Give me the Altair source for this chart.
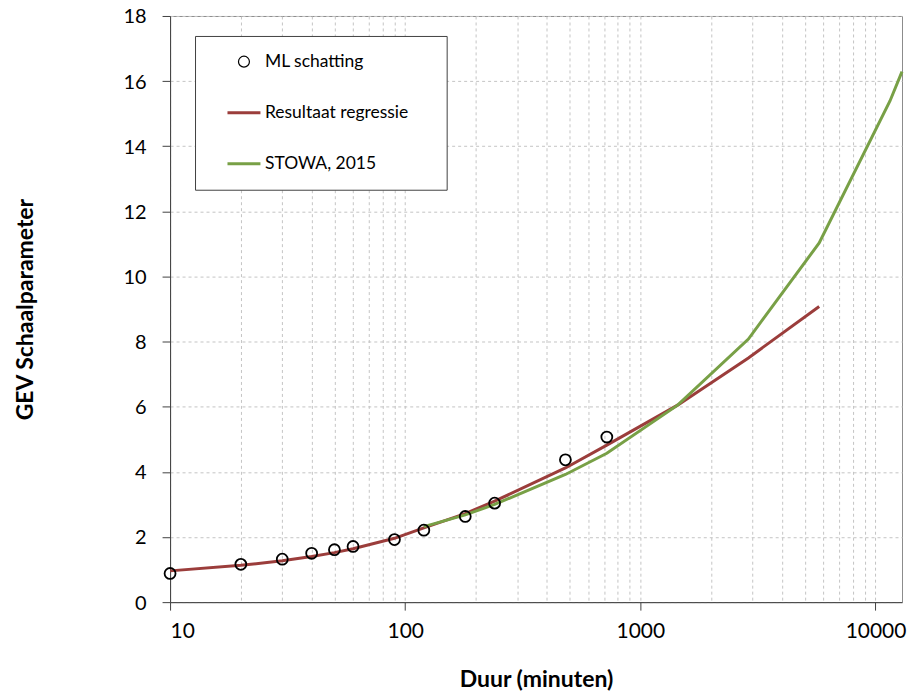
import altair as alt
import pandas as pd

# ---------------- data ----------------
series_names = ["ML schatting", "Resultaat regressie", "STOWA, 2015"]
series_colors = ["#000000", "#9B3D3B", "#78A046"]

ml_dur = [10, 20, 30, 40, 50, 60, 90, 120, 180, 240, 480, 720]
ml_val = [0.88, 1.16, 1.32, 1.50, 1.61, 1.71, 1.92, 2.21, 2.63, 3.04, 4.37, 5.07]

reg_dur = [10, 20, 30, 40, 50, 60, 90, 120, 180, 240, 480, 720, 1440, 2880, 5760]
reg_val = [0.96, 1.13, 1.27, 1.40, 1.52, 1.64, 1.96, 2.28, 2.72, 3.10, 4.12, 4.82, 6.05, 7.50, 9.08]

stowa_dur = [120, 180, 240, 480, 720, 1440, 2880, 5760, 11520, 12960]
stowa_val = [2.32, 2.68, 3.00, 3.92, 4.57, 6.05, 8.08, 11.03, 15.39, 16.29]

x_grid_values = [10, 20, 30, 40, 50, 60, 70, 80, 90,
                 100, 200, 300, 400, 500, 600, 700, 800, 900,
                 1000, 2000, 3000, 4000, 5000, 6000, 7000, 8000, 9000, 10000]
y_tick_values = [0, 2, 4, 6, 8, 10, 12, 14, 16, 18]

ml_df = pd.DataFrame({"duur": ml_dur, "waarde": ml_val, "reeks": series_names[0]})
lines_df = pd.concat([
    pd.DataFrame({"duur": reg_dur, "waarde": reg_val, "reeks": series_names[1]}),
    pd.DataFrame({"duur": stowa_dur, "waarde": stowa_val, "reeks": series_names[2]}),
], ignore_index=True)

# ---------------- encodings ----------------
major = "(datum.value == 10 || datum.value == 100 || datum.value == 1000 || datum.value == 10000)"

x_enc = alt.X(
    "duur:Q",
    scale=alt.Scale(type="log", domain=[10, 12960], nice=False),
    axis=alt.Axis(
        values=x_grid_values,
        labelExpr=major + " ? format(datum.value, 'd') : ''",
        tickOpacity={"condition": {"test": major, "value": 1}, "value": 0},
        labelPadding=10,
        titleY=84,
        titleBaseline="alphabetic",
    ),
    title="Duur (minuten)",
)
y_enc = alt.Y(
    "waarde:Q",
    scale=alt.Scale(domain=[0, 18], nice=False),
    axis=alt.Axis(
        values=y_tick_values,
        labelPadding=16,
        labelFontSize=20,
        labelOffset=1,
        titleX=-138,
        titleY=293.5,
        titleAngle=270,
        titleAlign="center",
        titleBaseline="alphabetic",
    ),
    title="GEV Schaalparameter",
)

legend = alt.Legend(
    orient="none",
    legendX=25,
    legendY=20,
    title=" ",
    titleOrient="right",
    titleFontSize=4,
    titlePadding=21,
    padding=17,
    symbolOffset=14,
    rowPadding=24,
    labelOffset=3,
    labelFont="Lato",
    labelFontSize=17.5,
    labelColor="#000000",
    strokeColor="#404040",
    fillColor="#ffffff",
    symbolFillColor="transparent",
)

color_enc = alt.Color("reeks:N", scale=alt.Scale(domain=series_names, range=series_colors), legend=legend)

lines = alt.Chart(lines_df).mark_line().encode(
    x=x_enc,
    y=y_enc,
    color=color_enc,
    strokeWidth=alt.StrokeWidth(
        "reeks:N",
        scale=alt.Scale(type="ordinal", domain=series_names, range=[1.2, 3, 3]),
        legend=legend,
    ),
)

points = alt.Chart(ml_df).mark_point(filled=False, strokeWidth=1.8, opacity=1).encode(
    x=x_enc,
    y=y_enc,
    color=color_enc,
    shape=alt.Shape("reeks:N", scale=alt.Scale(domain=series_names, range=["circle", "stroke", "stroke"]), legend=legend),
    size=alt.Size(
        "reeks:N",
        scale=alt.Scale(type="ordinal", domain=series_names, range=[120, 1089, 1089]),
        legend=legend,
    ),
)

chart = alt.layer(lines, points).properties(
    width=733,
    height=587,
    autosize=alt.AutoSizeParams(type="none"),
    padding={"left": 162.3, "top": 7.5, "right": 5, "bottom": 90},
).configure_view(
    stroke="#8c8c8c",
    strokeWidth=1,
).configure_axis(
    labelFont="Lato",
    labelFontSize=21,
    labelColor="#000000",
    titleFont="Lato",
    titleFontSize=23,
    titleFontWeight="bold",
    titleColor="#000000",
    domainColor="#404040",
    tickColor="#404040",
    tickSize=8,
    gridColor="#c4c4c4",
    gridDash=[3, 3],
    gridWidth=1,
)

chart.save("out.html", embed_options={"renderer": "svg", "actions": False})
